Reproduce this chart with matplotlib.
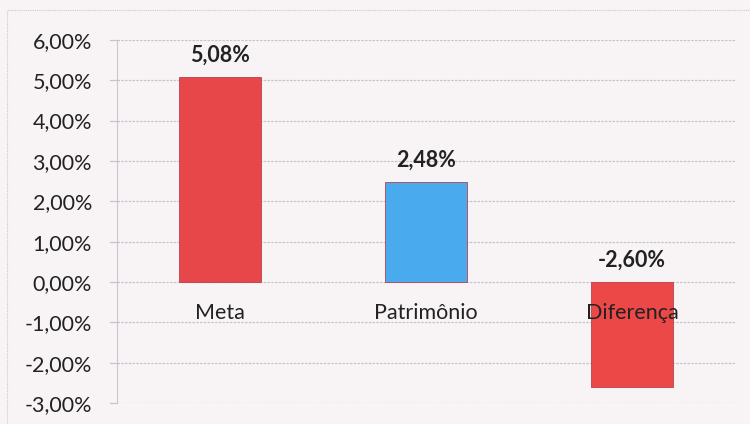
import matplotlib
matplotlib.use("Agg")
import matplotlib.pyplot as plt
from matplotlib.patches import Rectangle

categories = ["Meta", "Patrimônio", "Diferença"]
values = [5.08, 2.48, -2.60]
value_labels = ["5,08%", "2,48%", "-2,60%"]
colors = ["#e8474a", "#4aaaee", "#ec4848"]
yticks = [6, 5, 4, 3, 2, 1, 0, -1, -2, -3]
ytick_labels = ["6,00%", "5,00%", "4,00%", "3,00%", "2,00%", "1,00%", "0,00%", "-1,00%", "-2,00%", "-3,00%"]

plt.rcParams['font.family'] = ['Lato', 'DejaVu Sans']

fig = plt.figure(figsize=(7.5, 4.24), dpi=100)
bg = "#f8f4f6"
fig.patch.set_facecolor(bg)
fig.patches.append(Rectangle((0.009, -0.01), 1.0, 0.987, transform=fig.transFigure,
                             fill=False, edgecolor="#c8c8d0", lw=0.8, ls=(0, (1, 1))))
ax = fig.add_axes([0.156, 0.0495, 0.824, 0.8565])
ax.set_facecolor(bg)

x = list(range(len(categories)))
ax.bar(x, values, width=0.4, color=colors, edgecolor="#b84050", linewidth=0.6, zorder=3)
ax.set_xlim(-0.5, 2.5)
ax.set_ylim(-3, 6)
ax.set_yticks(yticks)
ax.set_yticklabels(ytick_labels, fontsize=15.5, color="#222222")
ax.tick_params(axis='y', length=0, pad=18)
ax.set_xticks([])
ax.grid(axis='y', color="#c4c4cc", lw=0.9, ls=(0, (2, 1)), zorder=0)
for s in ["top", "right", "bottom"]:
    ax.spines[s].set_visible(False)
ax.spines["left"].set_color("#c8c8d0")
ax.spines["left"].set_linewidth(0.8)
for yt in yticks:
    ax.plot([-0.535, -0.5], [yt, yt], color="#c4c4cc", lw=0.9, clip_on=False, zorder=1)

for xi, v, lab in zip(x, values, value_labels):
    ax.annotate(lab, (xi, max(v, 0)), xytext=(0, 8), textcoords="offset points",
                ha="center", va="bottom", fontsize=15.5, fontweight="bold", color="#222222", zorder=5)
for xi, c in zip(x, categories):
    ax.annotate(c, (xi, 0), xytext=(0, -22), textcoords="offset points",
                ha="center", va="center", fontsize=15.5, color="#222222", zorder=5)

fig.savefig("out.png", dpi=100, facecolor=bg)
